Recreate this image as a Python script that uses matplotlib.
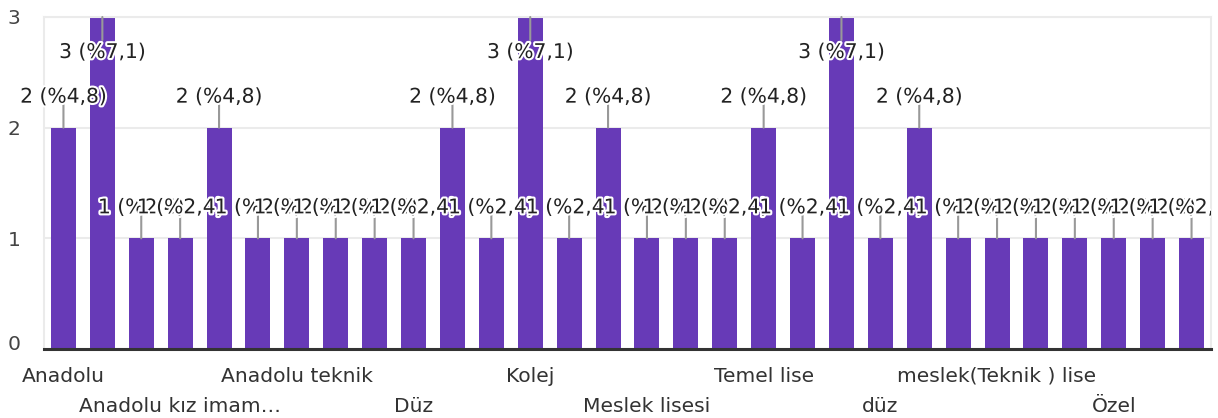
import matplotlib
matplotlib.use("Agg")
import matplotlib.pyplot as plt
import matplotlib.patheffects as pe
from matplotlib.transforms import ScaledTranslation, Bbox, TransformedBbox

# ---- data ----
values = [2, 3, 1, 1, 2, 1, 1, 1, 1, 1,
          2, 1, 3, 1, 2, 1, 1, 1, 2, 1,
          3, 1, 2, 1, 1, 1, 1, 1, 1, 1]
tick_positions = [0, 3, 6, 9, 12, 15, 18, 21, 24, 27]
tick_labels = ["Anadolu", "Anadolu kız imam…", "Anadolu teknik", "Düz", "Kolej",
               "Meslek lisesi", "Temel lise", "düz", "meslek(Teknik ) lise", "Özel"]
y_ticks = [0, 1, 2, 3]

BAR = "#673ab7"
TXT = "#222222"
FS = 14.6

plt.rcParams['font.family'] = ['DejaVu Sans']

fig = plt.figure(figsize=(12.18, 4.18), dpi=100)
W, H = 1218, 418
right_frac = 1211 / W
ax = fig.add_axes([44 / W, (H - 349) / H, right_frac - 44 / W, (349 - 17) / H])

total = sum(values)
xs = list(range(len(values)))
ax.bar(xs, values, width=0.643, color=BAR, zorder=2)

ax.set_xlim(-0.5, len(values) - 0.5)
ax.set_ylim(0, max(y_ticks))

# grid & spines
ax.set_yticks(y_ticks)
ax.set_yticklabels([str(t) for t in y_ticks])
ax.yaxis.grid(True, color="#ebebeb", linewidth=1.5, zorder=0)
ax.set_axisbelow(True)
for s in ["left", "right", "top"]:
    ax.spines[s].set_color("#ebebeb")
    ax.spines[s].set_linewidth(1.5)
ax.spines["bottom"].set_color("#333333")
ax.spines["bottom"].set_linewidth(2.2)
ax.spines["bottom"].set_zorder(5)
ax.tick_params(axis="y", length=0, pad=17, labelsize=FS, labelcolor="#444444")
ax.tick_params(axis="x", length=0, labelbottom=False)
for lbl in ax.get_yticklabels():
    if lbl.get_text() == "0":
        lbl.set_transform(lbl.get_transform() + ScaledTranslation(0, 7 / 100, fig.dpi_scale_trans))

# x labels, alternating rows
xt = ax.get_xaxis_transform()
for k, (p, lab) in enumerate(zip(tick_positions, tick_labels)):
    off = -33 if k % 2 == 0 else -63
    ax.text(p, 0, lab, transform=xt + ScaledTranslation(0, off / 100, fig.dpi_scale_trans),
            ha="center", va="baseline", fontsize=FS, color="#333333", clip_on=False)

# annotations (clipped only at the plot's right edge)
clip = TransformedBbox(Bbox([[0, 0], [right_frac, 1]]), fig.transFigure)
halo = [pe.withStroke(linewidth=3, foreground="white")]
ymax = max(y_ticks)
for i, v in enumerate(values):
    pct = v / total * 100
    txt = f"{v} (%{pct:.1f})".replace(".", ",")
    if v >= ymax:
        lo, to, va = -23, -26, "top"
    else:
        lo, to, va = 23, 25, "baseline"
    ax.annotate("", xy=(i, v), xytext=(0, lo), textcoords="offset pixels",
                arrowprops=dict(arrowstyle="-", color="#999999", lw=1.5,
                                shrinkA=0, shrinkB=0), zorder=3 + i * 0.01)
    t = ax.annotate(txt, xy=(i, v), xytext=(0, to), textcoords="offset pixels",
                    ha="center", va=va, fontsize=FS, color=TXT,
                    path_effects=halo, zorder=4 + i * 0.01, annotation_clip=False)
    t.set_clip_on(True)
    t.set_clip_box(clip)

fig.savefig("out.png", dpi=100)
